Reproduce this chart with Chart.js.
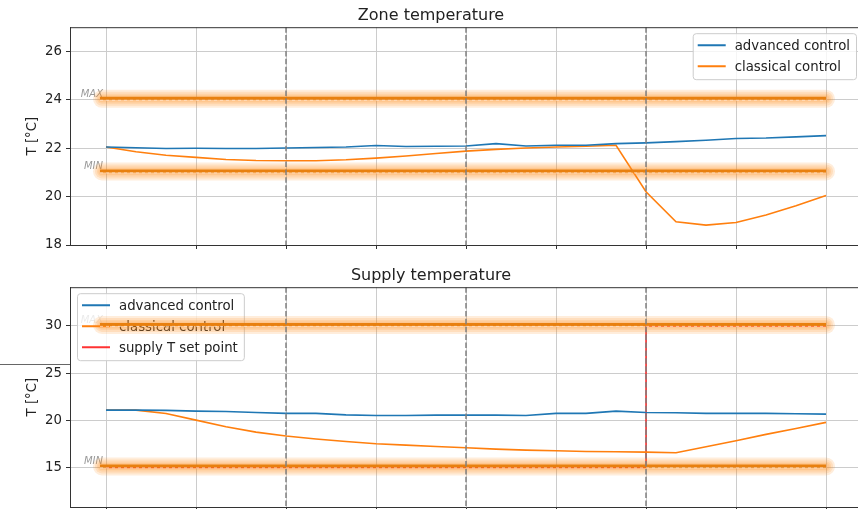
<!DOCTYPE html>
<html>
<head>
<meta charset="utf-8">
<script src="https://cdn.jsdelivr.net/npm/chart.js@4/dist/chart.umd.min.js"></script>
<style>
  html, body { margin: 0; padding: 0; background: #fff; overflow: hidden; width: 858px; height: 509px; }
  .panel { position: absolute; left: 0; width: 872px; }
  #zonePanel { top: 0; height: 260px; }
  #supplyPanel { top: 260px; height: 249px; }
</style>
</head>
<body>
<div class="panel" id="zonePanel"><canvas id="zone"></canvas></div>
<div class="panel" id="supplyPanel"><canvas id="supply"></canvas></div>
<script>
// hours of the day
const hours = [0, 1, 2, 3, 4, 5, 6, 7, 8, 9, 10, 11, 12, 13, 14, 15, 16, 17, 18, 19, 20, 21, 22, 23, 24];

// zone temperature [°C]
const zoneAdvanced = [22.05, 22.02, 21.99, 22.0, 21.99, 21.99, 22.01, 22.03, 22.05, 22.11, 22.07, 22.08, 22.09,
  22.19, 22.09, 22.12, 22.12, 22.19, 22.22, 22.27, 22.33, 22.4, 22.42, 22.47, 22.52];
const zoneClassical = [22.05, 21.85, 21.71, 21.62, 21.53, 21.49, 21.48, 21.48, 21.52, 21.59, 21.68, 21.78, 21.88,
  21.95, 22.01, 22.05, 22.08, 22.12, 20.2, 18.96, 18.82, 18.93, 19.24, 19.62, 20.05];

// supply temperature [°C]
const supplyAdvanced = [21.07, 21.07, 21.04, 20.96, 20.93, 20.82, 20.72, 20.72, 20.57, 20.5, 20.5, 20.54, 20.54,
  20.54, 20.5, 20.72, 20.72, 20.96, 20.82, 20.79, 20.72, 20.72, 20.72, 20.68, 20.64];
const supplyClassical = [21.07, 21.07, 20.72, 20.01, 19.3, 18.74, 18.32, 18.0, 17.75, 17.5, 17.36, 17.22, 17.08,
  16.94, 16.83, 16.76, 16.69, 16.65, 16.62, 16.55, 17.18, 17.82, 18.5, 19.13, 19.77];
const supplySetPoint = [15, 15, 15, 15, 15, 15, 15, 15, 15, 15, 15, 15, 15,
  15, 15, 15, 15, 15, 30, 30, 30, 30, 30, 30, 30];

// limits and markers
const limitNames = ['MAX', 'MIN'];
const zoneLimits = [24, 21];
const supplyLimits = [30, 15];
const limitSpan = [-0.2, 24];
const dividerHours = [6, 12, 18];

const font = 'DejaVu Sans';

function pairs(values) {
  return hours.map((h, i) => ({ x: h, y: values[i] }));
}

function line(label, values, color, extra) {
  return Object.assign({
    label: label,
    data: pairs(values),
    borderColor: color,
    backgroundColor: color,
    borderWidth: 1.6,
    pointRadius: 0,
    tension: 0,
    fill: false
  }, extra || {});
}

const overlay = {
  id: 'overlay',
  afterDatasetsDraw(chart) {
    const o = chart.options.plugins.overlay;
    const { ctx, chartArea: a, scales: { x, y } } = chart;
    ctx.save();
    ctx.beginPath();
    ctx.rect(a.left, a.top, a.right - a.left, a.bottom - a.top);
    ctx.clip();

    const x0 = x.getPixelForValue(limitSpan[0]);
    const x1 = x.getPixelForValue(limitSpan[1]);

    // limit names
    ctx.font = 'italic 10px "' + font + '"';
    ctx.fillStyle = '#9a9a9a';
    ctx.textAlign = 'right';
    ctx.textBaseline = 'alphabetic';
    o.limits.forEach((v, i) => {
      ctx.fillText(limitNames[i], x0 + 3, y.getPixelForValue(v) - 3);
    });

    // legend
    const items = chart.data.datasets;
    ctx.font = '13.3px "' + font + '"';
    const textW = Math.max(...items.map(d => ctx.measureText(d.label).width));
    const bw = 5 + 28 + 9 + textW + 6;
    const bh = 12 + (items.length - 1) * 21 + 13;
    const bx = o.legendSide === 'right' ? a.right - 6 - bw : a.left + 7;
    const by = a.top + 6;
    ctx.beginPath();
    ctx.roundRect(bx + 0.5, by + 0.5, bw, bh, 3);
    ctx.fillStyle = 'rgba(255,255,255,0.8)';
    ctx.fill();
    ctx.strokeStyle = '#cccccc';
    ctx.lineWidth = 1;
    ctx.stroke();
    ctx.textAlign = 'left';
    ctx.textBaseline = 'middle';
    items.forEach((d, i) => {
      const ry = by + 12 + i * 21;
      ctx.beginPath();
      ctx.moveTo(bx + 5, ry);
      ctx.lineTo(bx + 33, ry);
      ctx.strokeStyle = d.borderColor;
      ctx.lineWidth = 2;
      ctx.stroke();
      ctx.fillStyle = '#222';
      ctx.fillText(d.label, bx + 42, ry + 1);
    });

    // glowing limit bands
    o.limits.forEach(v => {
      const py = y.getPixelForValue(v);
      ctx.lineCap = 'round';
      [18, 14, 10, 7].forEach(w => {
        ctx.beginPath();
        ctx.moveTo(x0 + 2, py - 1);
        ctx.lineTo(x1, py - 1);
        ctx.strokeStyle = 'rgba(255,140,30,0.16)';
        ctx.lineWidth = w;
        ctx.stroke();
      });
      ctx.lineCap = 'butt';
      ctx.beginPath();
      ctx.moveTo(x0, py - 1.5);
      ctx.lineTo(x1, py - 1.5);
      ctx.strokeStyle = '#e8800f';
      ctx.lineWidth = 3;
      ctx.stroke();
      ctx.beginPath();
      ctx.setLineDash([3, 3]);
      ctx.moveTo(x0, py + 0.5);
      ctx.lineTo(x1, py + 0.5);
      ctx.strokeStyle = 'rgba(255,230,210,0.7)';
      ctx.lineWidth = 1;
      ctx.stroke();
      ctx.setLineDash([]);
    });

    // dashed dividers
    ctx.setLineDash([5.5, 2.4]);
    ctx.strokeStyle = '#808080';
    ctx.lineWidth = 1.5;
    dividerHours.forEach(h => {
      const px = Math.round(x.getPixelForValue(h));
      ctx.beginPath();
      ctx.moveTo(px, a.top);
      ctx.lineTo(px, a.bottom);
      ctx.stroke();
    });
    ctx.setLineDash([]);
    ctx.restore();

    // frame top
    ctx.save();
    ctx.strokeStyle = '#333';
    ctx.lineWidth = 1;
    ctx.beginPath();
    ctx.moveTo(a.left, a.top + 0.5);
    ctx.lineTo(a.right, a.top + 0.5);
    ctx.stroke();

    // y label
    ctx.font = '13.3px "' + font + '"';
    ctx.fillStyle = '#222';
    ctx.textAlign = 'center';
    ctx.textBaseline = 'middle';
    ctx.translate(33, (a.top + a.bottom) / 2);
    ctx.rotate(-Math.PI / 2);
    ctx.fillText('T [°C]', 0, 0);
    ctx.restore();

    if (o.strayValue !== undefined) {
      ctx.save();
      const sy = Math.round(y.getPixelForValue(o.strayValue)) + 0.5;
      ctx.strokeStyle = '#666';
      ctx.lineWidth = 1;
      ctx.beginPath();
      ctx.moveTo(0, sy);
      ctx.lineTo(a.left, sy);
      ctx.stroke();
      ctx.restore();
    }
  }
};

function makeChart(id, title, datasets, cfg) {
  return new Chart(document.getElementById(id), {
    type: 'line',
    data: { datasets: datasets },
    options: {
      responsive: true,
      maintainAspectRatio: false,
      animation: false,
      layout: { padding: { left: 0, right: 10, top: 0, bottom: 0 } },
      plugins: {
        legend: { display: false },
        tooltip: { enabled: false },
        title: {
          display: true, text: title, color: '#222',
          font: { family: font, size: 16, weight: 'normal' },
          padding: { top: 6, bottom: 2 }
        },
        overlay: cfg
      },
      scales: {
        x: {
          type: 'linear', min: -1.2, max: 25.2,
          ticks: { stepSize: 3, includeBounds: false, display: false },
          grid: { color: '#cccccc', tickLength: 4, tickColor: '#333' },
          border: { color: '#333' },
          afterFit: s => { s.height = cfg.xHeight; s.paddingLeft = 0; s.paddingRight = 0; }
        },
        y: {
          min: cfg.yMin, max: cfg.yMax,
          ticks: { stepSize: cfg.yStep, includeBounds: false, color: '#222', padding: 4,
            font: { family: font, size: 13.3 } },
          grid: { color: '#cccccc', tickLength: 4, tickColor: '#333' },
          border: { color: '#333' },
          afterFit: s => { s.width = 70; s.paddingTop = 0; s.paddingBottom = 0; }
        }
      }
    },
    plugins: [overlay]
  });
}

makeChart('zone', 'Zone temperature', [
  line('advanced control', zoneAdvanced, '#1f77b4'),
  line('classical control', zoneClassical, '#ff7f0e')
], { limits: zoneLimits, legendSide: 'right', xHeight: 15, yMin: 18, yMax: 27, yStep: 2 });

makeChart('supply', 'Supply temperature', [
  line('advanced control', supplyAdvanced, '#1f77b4'),
  line('classical control', supplyClassical, '#ff7f0e'),
  line('supply T set point', supplySetPoint, 'rgba(255,0,0,0.8)', { stepped: true })
], { limits: supplyLimits, legendSide: 'left', xHeight: 2, yMin: 10.8, yMax: 34.1, yStep: 5, strayValue: 26 });
</script>
</body>
</html>
